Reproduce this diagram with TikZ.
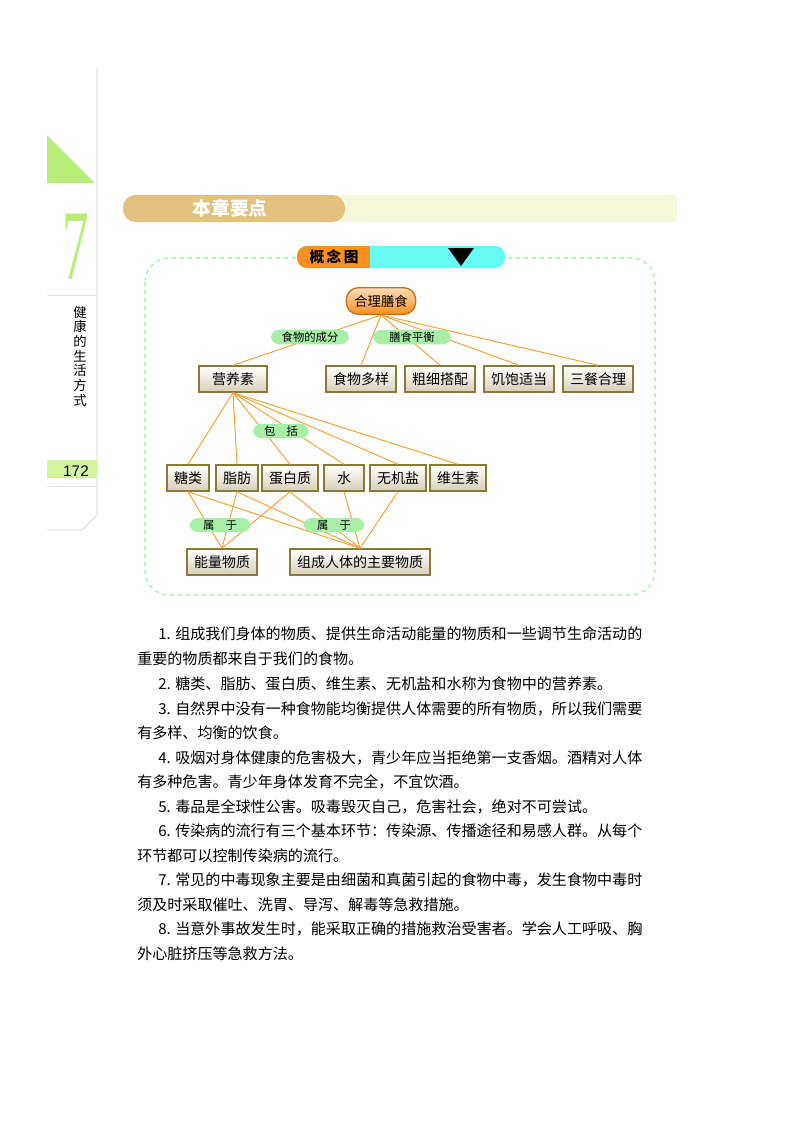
\documentclass[tikz,border=0pt]{standalone}
\usepackage{fontspec}
\setmainfont{Liberation Sans}
\newfontfamily\cjk{Noto Sans CJK SC}
\newfontfamily\serifn{Liberation Serif}
\usetikzlibrary{shapes.geometric}
\definecolor{lgreen}{HTML}{D4F5A0}
\definecolor{seven}{HTML}{B8EE78}
\definecolor{tan}{HTML}{E2C27E}
\definecolor{pale}{HTML}{F6F8DC}
\definecolor{org}{HTML}{F7901E}
\definecolor{cyanb}{HTML}{66FCF4}
\definecolor{dashg}{HTML}{9EEA9E}
\definecolor{lnk}{HTML}{F5A030}
\definecolor{lab}{HTML}{A6F0A6}
\definecolor{boxd}{HTML}{8A7A3A}
\tikzset{
 cbox/.style={draw=boxd,line width=1.6pt,top color=white,bottom color=boxd!35,minimum height=19pt,inner xsep=5pt,font=\cjk\fontsize{10.5pt}{12pt}\selectfont},
 lbl/.style={fill=lab,rounded corners=6pt,inner xsep=8pt,inner ysep=1.5pt,font=\cjk\fontsize{8.5pt}{9pt}\selectfont},
 lk/.style={draw=lnk,line width=0.7pt},
 para/.style={anchor=west,inner sep=0pt,font=\cjk\fontsize{11.3pt}{12pt}\selectfont}
}
\begin{document}
\begin{tikzpicture}[x=0.75pt,y=-0.75pt]
\useasboundingbox (0,0) rectangle (800,1132);
\fill[white] (0,0) rectangle (800,1132);
% sidebar
\draw[gray!20,line width=1pt] (97,68) -- (97,515) -- (82,530) -- (47,530);
\fill[seven] (47,135) -- (47,183) -- (95,183) -- cycle;
\node[text=seven,font=\serifn\fontsize{50pt}{52pt}\selectfont,yscale=1.5,xscale=0.8] (seven) at (76,247) {7};
\draw[gray!20] (47,295) -- (97,295);
\node[font=\cjk\fontsize{10pt}{11pt}\selectfont,align=center,inner sep=0pt] (side) at (80,356) {健\\康\\的\\生\\活\\方\\式};
\fill[lgreen] (47,460) rectangle (97,478);
\node[font=\fontsize{11.5pt}{12pt}\selectfont] (pg) at (76,471) {172};
\draw[gray!20] (47,486) -- (97,486);
% header
\fill[pale] (335,195) rectangle (677,222);
\fill[tan,rounded corners=9.5pt] (123,195) rectangle (345,222);
\node[text=white,font=\cjk\bfseries\fontsize{14pt}{16pt}\selectfont] (hd) at (230,208) {本章要点};
% concept map frame
\draw[dashg,dashed,line width=0.8pt,rounded corners=18pt] (145,258) rectangle (655,595);
\fill[cyanb,rounded corners=7.5pt] (297,246) rectangle (505,268);
\fill[org,rounded corners=7.5pt] (297,246) rectangle (380,268);
\fill[org] (360,246) rectangle (370,268);
\fill[cyanb] (370,246) rectangle (380,268);
\node[font=\cjk\bfseries\fontsize{11pt}{12pt}\selectfont] (gnt) at (334,257) {概\,念\,图};
\fill[black] (448,248) -- (474,248) -- (461,266) -- cycle;
% nodes
\node[draw=org!80!black,line width=1pt,rounded corners=9pt,top color=org!30,bottom color=org,minimum height=20pt,inner xsep=6pt,font=\cjk\fontsize{10pt}{12pt}\selectfont] (root) at (381,301) {合理膳食};
\node[cbox,minimum width=51pt] (yy) at (233,379) {营养素};
\node[cbox] (a1) at (361,379) {食物多样};
\node[cbox] (a2) at (440,379) {粗细搭配};
\node[cbox] (a3) at (519,379) {饥饱适当};
\node[cbox] (a4) at (598,379) {三餐合理};
\node[cbox] (b1) at (188,478) {糖类};
\node[cbox] (b2) at (237,478) {脂肪};
\node[cbox] (b3) at (290,478) {蛋白质};
\node[cbox,minimum width=30pt] (b4) at (344,478) {水};
\node[cbox] (b5) at (398,478) {无机盐};
\node[cbox] (b6) at (458,478) {维生素};
\node[cbox] (c1) at (222,562) {能量物质};
\node[cbox] (c2) at (360,562) {组成人体的主要物质};
% links
\foreach \t in {yy,a1,a2,a3,a4} \draw[lk] (root.south) -- (\t.north);
\foreach \t in {b1,b2,b3,b4,b5,b6} \draw[lk] (yy.south) -- (\t.north);
\foreach \s in {b1,b2,b3} \draw[lk] (\s.south) -- (c1.north);
\foreach \s in {b1,b2,b3,b4,b5} \draw[lk] (\s.south) -- (c2.north);
% labels
\node[lbl] (l1) at (310,337) {食物的成分};
\node[lbl,inner xsep=12pt] (l2) at (412,337) {膳食平衡};
\node[lbl] (l3) at (281,431) {包\quad 括};
\node[lbl,inner xsep=10pt] (l4) at (220,525) {属\quad 于};
\node[lbl,inner xsep=10pt] (l5) at (334,525) {属\quad 于};
% text
\node[para] (p1) at (158,634) {1. 组成我们身体的物质、提供生命活动能量的物质和一些调节生命活动的};
\node[para] (p1b) at (137,659) {重要的物质都来自于我们的食物。};
\node[para] (p2) at (158,684) {2. 糖类、脂肪、蛋白质、维生素、无机盐和水称为食物中的营养素。};
\node[para] (p3) at (158,709) {3. 自然界中没有一种食物能均衡提供人体需要的所有物质，所以我们需要};
\node[para] (p3b) at (137,733) {有多样、均衡的饮食。};
\node[para] (p4) at (158,758) {4. 吸烟对身体健康的危害极大，青少年应当拒绝第一支香烟。酒精对人体};
\node[para] (p4b) at (137,782) {有多种危害。青少年身体发育不完全，不宜饮酒。};
\node[para] (p5) at (158,807) {5. 毒品是全球性公害。吸毒毁灭自己，危害社会，绝对不可尝试。};
\node[para] (p6) at (158,831) {6. 传染病的流行有三个基本环节：传染源、传播途径和易感人群。从每个};
\node[para] (p6b) at (137,856) {环节都可以控制传染病的流行。};
\node[para] (p7) at (158,880) {7. 常见的中毒现象主要是由细菌和真菌引起的食物中毒，发生食物中毒时};
\node[para] (p7b) at (137,905) {须及时采取催吐、洗胃、导泻、解毒等急救措施。};
\node[para] (p8) at (158,929) {8. 当意外事故发生时，能采取正确的措施救治受害者。学会人工呼吸、胸};
\node[para] (p8b) at (137,954) {外心脏挤压等急救方法。};
\end{tikzpicture}
\end{document}
